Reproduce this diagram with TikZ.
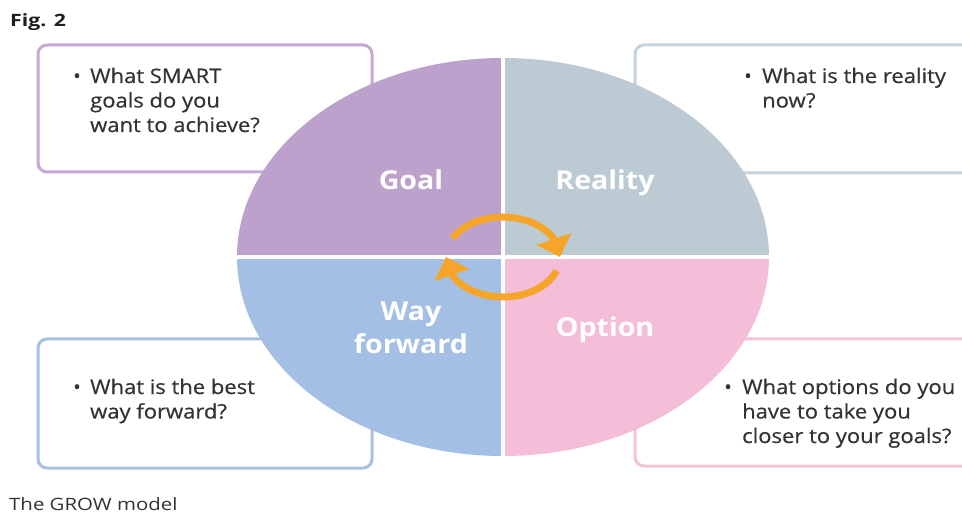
\documentclass[tikz,border=0pt]{standalone}
\usepackage{fontspec}
\setmainfont{Open Sans}
\newfontfamily\medfont[FakeBold=0.5]{Open Sans}
\usepackage{graphicx}
\usetikzlibrary{arrows.meta,bending}
\definecolor{goalc}{HTML}{BBA1CC}
\definecolor{realc}{HTML}{BCCAD4}
\definecolor{wayc}{HTML}{A3BFE4}
\definecolor{optc}{HTML}{F4BDD8}
\definecolor{goalb}{HTML}{C6A8D4}
\definecolor{realb}{HTML}{C6D3DD}
\definecolor{wayb}{HTML}{A8C1E1}
\definecolor{optb}{HTML}{F3C1D8}
\definecolor{arrowc}{HTML}{F5A52A}
\definecolor{txtc}{HTML}{333333}
\newcommand{\hs}[1]{\scalebox{1.1}[1]{#1}}
\tikzset{
  boxline/.style={line width=3pt, rounded corners=9pt},
  boxtext/.style={inner sep=0pt, text=txtc, font=\medfont\fontsize{20}{24.5}\selectfont, anchor=base west},
  bul/.style={inner sep=0pt, text=txtc, font=\medfont\fontsize{20}{24.5}\selectfont, anchor=base},
  quadlabel/.style={inner sep=0pt, text=white, font=\fontsize{26}{33}\selectfont\bfseries, anchor=base},
  cyclearrow/.style={draw=arrowc, line width=7pt, -{Triangle[width=36pt,length=19pt]}},
}
\begin{document}
\begin{tikzpicture}[x=1pt,y=1pt]
\path[use as bounding box, fill=white] (0,0) rectangle (962,-513);
\clip (0,0) rectangle (962,-513);

% boxes
\draw[boxline, draw=goalb] (38,-45) rectangle (372,-172);
\draw[boxline, draw=realb] (635,-45) rectangle (990,-173);
\draw[boxline, draw=wayb] (38,-339) rectangle (372,-468);
\draw[boxline, draw=optb] (635,-339) rectangle (990,-466);

% quadrants
\fill[goalc] (503,-257) -- (237,-257) arc[start angle=180,end angle=90,x radius=266,y radius=199] -- cycle;
\fill[realc] (503,-257) -- (503,-58) arc[start angle=90,end angle=0,x radius=266,y radius=199] -- cycle;
\fill[optc] (503,-257) -- (769,-257) arc[start angle=0,end angle=-90,x radius=266,y radius=199] -- cycle;
\fill[wayc] (503,-257) -- (503,-456) arc[start angle=270,end angle=180,x radius=266,y radius=199] -- cycle;
\draw[white, line width=3.5pt] (503,-50) -- (503,-465);
\draw[white, line width=3.5pt] (230,-257) -- (776,-257);

% cycle arrows
\coordinate (c) at (503,-257);
\draw[cyclearrow] (c) ++(152:57 and 40) arc[start angle=152,end angle=0,x radius=57,y radius=40];
\draw[cyclearrow] (c) ++(-20:57 and 40) arc[start angle=-20,end angle=-180,x radius=57,y radius=40];

% quadrant labels
\node[quadlabel] (goal) at (411,-190) {\hs{Goal}};
\node[quadlabel] (reality) at (605,-190) {\hs{Reality}};
\node[quadlabel] (option) at (605,-337) {\hs{Option}};
\node[quadlabel] (way) at (411,-320) {\hs{\begin{tabular}[t]{@{}c@{}}Way\\forward\end{tabular}}};

% box texts
\node[bul] (gb) at (77,-83) {•};
\node[boxtext] (gt) at (90,-83) {\hs{\begin{tabular}[t]{@{}l@{}}What SMART\\goals do you\\want to achieve?\end{tabular}}};
\node[bul] (rb) at (748,-83) {•};
\node[boxtext] (rt) at (762,-83) {\hs{\begin{tabular}[t]{@{}l@{}}What is the reality\\now?\end{tabular}}};
\node[bul] (wb) at (77,-394) {•};
\node[boxtext] (wt) at (90,-394) {\hs{\begin{tabular}[t]{@{}l@{}}What is the best\\way forward?\end{tabular}}};
\node[bul] (ob) at (728,-394) {•};
\node[boxtext] (ot) at (742,-394) {\hs{\begin{tabular}[t]{@{}l@{}}What options do you\\have to take you\\closer to your goals?\end{tabular}}};

% captions
\node[inner sep=0pt, anchor=base west, text=black!88, font=\fontsize{17}{20}\selectfont\bfseries] (fig) at (10,-27) {\scalebox{1.25}[1]{Fig. 2}};
\node[inner sep=0pt, anchor=base west, text=txtc, font=\fontsize{17}{20}\selectfont] (cap) at (9,-510) {\scalebox{1.2}[1]{The GROW model}};
\end{tikzpicture}
\end{document}
